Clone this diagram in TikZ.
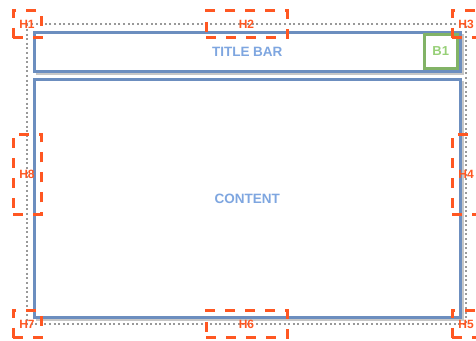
\documentclass[tikz,border=0pt]{standalone}
\usepackage{fontspec}
\setmainfont{Liberation Sans}
\definecolor{frameblue}{HTML}{6C8EBF}
\definecolor{labelblue}{HTML}{7EA6E0}
\definecolor{btngreen}{HTML}{82B366}
\definecolor{btntext}{HTML}{97D077}
\definecolor{handle}{HTML}{FF5722}
\tikzset{
  panel/.style={draw=frameblue, line width=3pt, fill=white, inner sep=0pt,
    font=\bfseries\fontsize{13.5}{16}\selectfont, text=labelblue},
  button/.style={draw=btngreen, line width=3pt, fill=white, inner sep=0pt,
    minimum width=33.5pt, minimum height=34pt,
    font=\bfseries\fontsize{13}{15}\selectfont, text=btntext},
  handlebox/.style={draw=handle, line width=3pt, dash pattern=on 10pt off 10pt,
    inner sep=0pt, font=\bfseries\fontsize{12}{14}\selectfont, text=handle},
  cornerhandle/.style={handlebox, minimum width=28pt, minimum height=27pt},
  hhandle/.style={handlebox, minimum width=81pt, minimum height=27pt},
  vhandle/.style={handlebox, minimum width=28pt, minimum height=80pt},
  bounds/.style={draw=black!40, line width=2pt, dash pattern=on 2pt off 2.6pt},
  dropshadow/.style={fill=black!22}
}
\begin{document}
\begin{tikzpicture}[x=1pt,y=-1pt]
\useasboundingbox (0,0) rectangle (476,340);

% outer bounds of the window
\draw[bounds] (27,24.3) rectangle (466,324.3);

% shadows beneath the panels
\fill[dropshadow] (35.5,33.5) rectangle (464,75);
\fill[dropshadow] (35.5,80.5) rectangle (464,321.2);

% title bar and content panels
\node[panel, minimum width=426.5pt, minimum height=39.5pt] (title) at (247.25,51.75) {TITLE BAR};
\node[panel, minimum width=426.5pt, minimum height=238.7pt] (content) at (247.25,198.35) {CONTENT};

% close button
\node[button] (b1) at (440.75,51.5) {B1};

% resize handles
\node[cornerhandle] (h1) at (27,24.3) {H1};
\node[hhandle]      (h2) at (246.5,24.3) {H2};
\node[cornerhandle] (h3) at (466,24.3) {H3};
\node[vhandle]      (h4) at (466,174.3) {H4};
\node[cornerhandle] (h5) at (466,324.3) {H5};
\node[hhandle]      (h6) at (246.5,324.3) {H6};
\node[cornerhandle] (h7) at (27,324.3) {H7};
\node[vhandle]      (h8) at (27,174.3) {H8};
\end{tikzpicture}
\end{document}
